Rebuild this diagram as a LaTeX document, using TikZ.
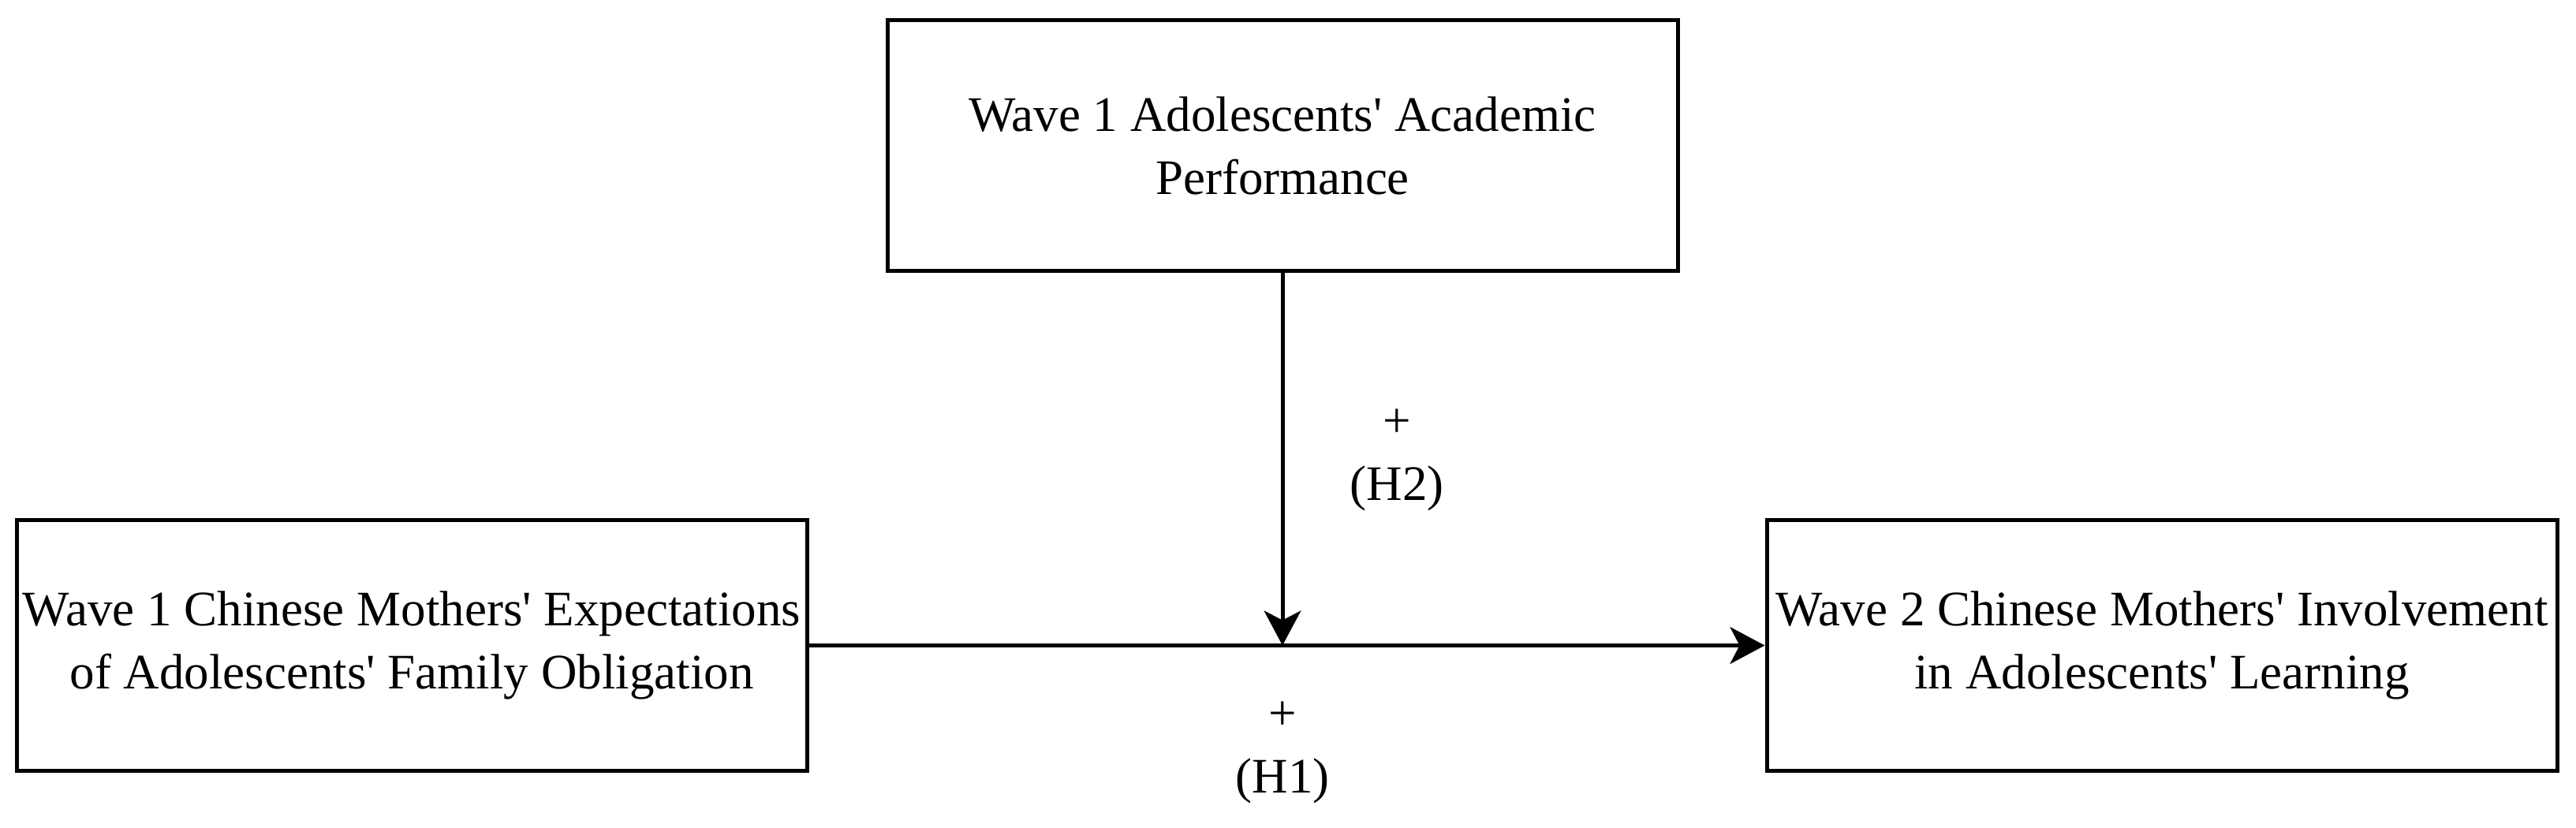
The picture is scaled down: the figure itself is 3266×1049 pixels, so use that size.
\documentclass[tikz,border=0pt]{standalone}
\usepackage{fontspec}
\setmainfont{Liberation Serif}
\usetikzlibrary{arrows.meta}
\newcommand{\ap}{\textquotesingle}
\tikzset{
  varbox/.style={draw, line width=1.5pt, minimum width=300.6pt, minimum height=95.4pt,
    inner sep=0pt, align=center, font=\fontsize{18.9}{24}\selectfont},
  hyplabel/.style={align=center, inner sep=0pt, font=\fontsize{18.9}{24}\selectfont},
  patharrow/.style={line width=1.5pt, -{Stealth[length=13.2pt, width=14pt, inset=3.6pt]}}
}
\begin{document}
\begin{tikzpicture}[x=0.3pt,y=-0.3pt]
\useasboundingbox (0,0) rectangle (3266,1049);

%Shape: Rectangle [moderator]
\node[varbox] (perf) at (1626,184.5) {Wave 1 Adolescents\ap{} Academic\\Performance};
%Shape: Rectangle [predictor]
\node[varbox] (expect) at (522,818.5) {Wave 1 Chinese Mothers\ap{} Expectations\\of Adolescents\ap{} Family Obligation};
%Shape: Rectangle [outcome]
\node[varbox] (involve) at (2741,818.5) {Wave 2 Chinese Mothers\ap{} Involvement\\in Adolescents\ap{} Learning};

%Straight Lines
\coordinate (meet) at (perf.south |- expect.east);
\draw[patharrow] (expect.east) -- (involve.west);
\draw[patharrow] (perf.south) -- (meet);

% Text Node
\node[hyplabel] (h2) at (1771,583) {+\\(H2)};
% Text Node
\node[hyplabel] (h1) at (1626,954) {+\\(H1)};
\end{tikzpicture}
\end{document}
